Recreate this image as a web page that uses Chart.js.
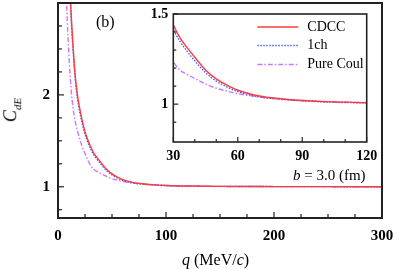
<!DOCTYPE html>
<html><head><meta charset="utf-8">
<script src="https://cdn.jsdelivr.net/npm/chart.js@4.4.1/dist/chart.umd.min.js"></script>
<style>
html,body{margin:0;padding:0;background:#fff;}
#wrap{position:relative;width:399px;height:270px;overflow:hidden;font-family:"Liberation Serif","Times New Roman",serif;background:#fff;}
#main{position:absolute;left:0;top:0;}
#inset{position:absolute;left:130px;top:0;}
.t{position:absolute;white-space:nowrap;color:#000;line-height:1;}
</style></head><body>
<div id="wrap">
<canvas id="main" width="399" height="270"></canvas>
<canvas id="inset" width="262" height="170"></canvas>
<div class="t" style="left:96px;top:14px;font-size:16px;">(b)</div>
<div class="t" style="left:293px;top:168px;font-size:15px;"><i>b</i> = 3.0 (fm)</div>
<div class="t" style="left:182px;top:252px;font-size:16px;"><i>q</i> (MeV/<i>c</i>)</div>
<div class="t" style="left:12px;top:110px;font-size:18px;transform:translate(-50%,-50%) rotate(-90deg);"><i>C</i><sub style="font-size:11px;"><i>dE</i></sub></div>
</div>
<script>
// ---- data ----
const qValues   = [6,8,10,12,14,16,18,20,22,25,28,30,33,36,40,45,50,55,60,70,80,90,100,120,150,200,250,300];
const cdccVals  = [5.6,4.3,3.45,2.92,2.52,2.2,2.0,1.86,1.74,1.6,1.5,1.44,1.37,1.32,1.26,1.19,1.14,1.105,1.077,1.045,1.03,1.02,1.014,1.008,1.004,1.002,1.001,1.0];
const oneChVals = [5.5,4.2,3.4,2.88,2.48,2.16,1.96,1.82,1.71,1.57,1.47,1.415,1.35,1.30,1.24,1.175,1.128,1.095,1.07,1.04,1.027,1.018,1.012,1.007,1.004,1.002,1.001,1.0];
const coulVals  = [4.0,3.0,2.45,2.08,1.85,1.71,1.61,1.525,1.45,1.36,1.28,1.235,1.19,1.168,1.142,1.112,1.088,1.072,1.058,1.04,1.028,1.02,1.015,1.008,1.004,1.002,1.001,1.0];
const seriesLabels = ['CDCC','1ch','Pure Coul'];

const mainXLabels  = [0,100,200,300];
const mainXMinor   = [25,50,75,125,150,175,225,250,275];
const mainYLabels  = [1,2];
const mainYMinor   = [0.75,1.25,1.5,1.75,2.25,2.5,2.75];
const insetXLabels = [30,60,90,120];
const insetXMinor  = [40,50,70,80,100,110];
const insetYLabels = [1,1.5];
const insetYMinor  = [0.9,1.1,1.2,1.3,1.4];

const colors = ['#ff3b3b','#3f5fff','#cc77ff'];
const dashes = [[],[1.5,1.5],[5,2,1.5,2]];

function makeDatasets(){
  const vals=[cdccVals,oneChVals,coulVals];
  return vals.map((v,i)=>({
    label:seriesLabels[i],
    data:qValues.map((q,j)=>({x:q,y:v[j]})),
    borderColor:colors[i],
    backgroundColor:'transparent',
    borderWidth:1.4,
    borderDash:dashes[i],
    pointRadius:0,
    cubicInterpolationMode:'monotone',
    fill:false,
    order:i
  }));
}

function noPad(s){s.paddingTop=0;s.paddingBottom=0;s.paddingLeft=0;s.paddingRight=0;}

function framePlugin(o){
  return {id:'frame'+o.id, afterDatasetsDraw(chart){
    const ctx=chart.ctx, a=chart.chartArea, x=chart.scales.x, y=chart.scales.y;
    ctx.save();
    ctx.strokeStyle='#222';
    ctx.lineWidth=o.lw;
    ctx.strokeRect(a.left,a.top,a.right-a.left,a.bottom-a.top);
    ctx.lineWidth=1.2;
    const tick=(x1,y1,x2,y2)=>{ctx.beginPath();ctx.moveTo(x1,y1);ctx.lineTo(x2,y2);ctx.stroke();};
    o.xMaj.forEach(v=>{const p=x.getPixelForValue(v);tick(p,a.bottom,p,a.bottom-o.maj);});
    o.xMin.forEach(v=>{const p=x.getPixelForValue(v);tick(p,a.bottom,p,a.bottom-o.min);});
    o.yMaj.forEach(v=>{const p=y.getPixelForValue(v);tick(a.left,p,a.left+o.maj,p);});
    o.yMin.forEach(v=>{const p=y.getPixelForValue(v);tick(a.left,p,a.left+o.min,p);});
    ctx.restore();
  }};
}

const legendPlugin={id:'insetLegend', afterDatasetsDraw(chart){
  const ctx=chart.ctx, a=chart.chartArea;
  const rows=[13,31.5,50.5];
  ctx.save();
  chart.data.datasets.forEach((ds,i)=>{
    const yy=a.top+rows[i];
    ctx.strokeStyle=ds.borderColor; ctx.lineWidth=ds.borderWidth; ctx.setLineDash(ds.borderDash);
    ctx.beginPath(); ctx.moveTo(a.left+84,yy); ctx.lineTo(a.left+125,yy); ctx.stroke();
    ctx.setLineDash([]);
    ctx.fillStyle='#000'; ctx.font='14px "Liberation Serif"'; ctx.textBaseline='middle'; ctx.textAlign='left';
    ctx.fillText(ds.label,a.left+134,yy);
  });
  ctx.restore();
}};

const tickFont={family:'"Liberation Serif"',size:15,weight:'bold'};

new Chart(document.getElementById('main'),{
  type:'line',
  data:{datasets:makeDatasets()},
  options:{
    responsive:false,animation:false,
    layout:{padding:{top:3,right:17,left:0,bottom:0}},
    plugins:{legend:{display:false},tooltip:{enabled:false}},
    scales:{
      x:{type:'linear',min:0,max:300,
        afterBuildTicks:s=>{s.ticks=mainXLabels.map(v=>({value:v}));},
        afterFit:s=>{s.height=52;noPad(s);},
        grid:{display:false,drawTicks:false},border:{display:false},
        ticks:{font:tickFont,color:'#000',padding:9,maxRotation:0,autoSkip:false}},
      y:{type:'linear',min:0.66,max:3.0,
        afterBuildTicks:s=>{s.ticks=mainYLabels.map(v=>({value:v}));},
        afterFit:s=>{s.width=58;noPad(s);},
        grid:{display:false,drawTicks:false},border:{display:false},
        ticks:{font:tickFont,color:'#000',padding:8,autoSkip:false}}
    }
  },
  plugins:[framePlugin({id:'m',lw:2,maj:6,min:4,xMaj:mainXLabels,xMin:mainXMinor,yMaj:mainYLabels,yMin:mainYMinor})]
});

new Chart(document.getElementById('inset'),{
  type:'line',
  data:{datasets:makeDatasets()},
  options:{
    responsive:false,animation:false,
    layout:{padding:{top:14,right:25.3,left:0,bottom:0}},
    plugins:{legend:{display:false},tooltip:{enabled:false}},
    scales:{
      x:{type:'linear',min:30,max:120,
        afterBuildTicks:s=>{s.ticks=insetXLabels.map(v=>({value:v}));},
        afterFit:s=>{s.height=28;noPad(s);},
        grid:{display:false,drawTicks:false},border:{display:false},
        ticks:{font:{family:'"Liberation Serif"',size:14,weight:'bold'},color:'#000',padding:6,maxRotation:0,autoSkip:false}},
      y:{type:'linear',min:0.79,max:1.5,
        afterBuildTicks:s=>{s.ticks=insetYLabels.map(v=>({value:v}));},
        afterFit:s=>{s.width=43.3;noPad(s);},
        grid:{display:false,drawTicks:false},border:{display:false},
        ticks:{font:{family:'"Liberation Serif"',size:14,weight:'bold'},color:'#000',padding:5,autoSkip:false,callback:v=>String(v)}}
    }
  },
  plugins:[framePlugin({id:'i',lw:1.6,maj:5,min:3,xMaj:insetXLabels,xMin:insetXMinor,yMaj:insetYLabels,yMin:insetYMinor}),legendPlugin]
});
</script>
</body></html>
